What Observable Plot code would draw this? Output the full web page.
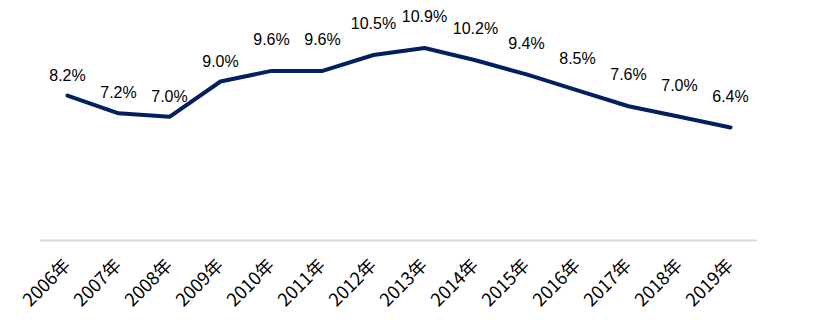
<!DOCTYPE html>
<html>
<head>
<meta charset="utf-8">
<script src="https://cdn.jsdelivr.net/npm/d3@7"></script>
<script src="https://cdn.jsdelivr.net/npm/@observablehq/plot@0.6"></script>
<style>
  html, body { margin: 0; padding: 0; background: #fff; }
</style>
</head>
<body>
<div id="chart"></div>
<script>
const years = ["2006年","2007年","2008年","2009年","2010年","2011年","2012年","2013年","2014年","2015年","2016年","2017年","2018年","2019年"];
const values = [8.2, 7.2, 7.0, 9.0, 9.6, 9.6, 10.5, 10.9, 10.2, 9.4, 8.5, 7.6, 7.0, 6.4];
const labels = ["8.2%","7.2%","7.0%","9.0%","9.6%","9.6%","10.5%","10.9%","10.2%","9.4%","8.5%","7.6%","7.0%","6.4%"];

const data = years.map((y, i) => ({year: y, value: values[i], label: labels[i], i}));

const chart = Plot.plot({
  width: 828,
  height: 328,
  marginLeft: 40,
  marginRight: 71,
  marginTop: 28,
  marginBottom: 88,
  style: {background: "#fff"},
  x: {type: "point", domain: years, padding: 0.5, label: null},
  y: {domain: [0, 12], axis: null},
  marks: [
    Plot.ruleY([0], {stroke: "#d9d9d9", strokeWidth: 2}),
    Plot.lineY(data, {x: "year", y: "value", stroke: "#002060", strokeWidth: 4, strokeLinejoin: "round"}),
    Plot.text(data.filter(d => d.i < 4), {x: "year", y: "value", text: "label", dy: -20, fontSize: 16, fill: "#000", fontFamily: "Liberation Sans, Arial, sans-serif"}),
    Plot.text(data.filter(d => d.i >= 4), {x: "year", y: "value", text: "label", dy: -31, fontSize: 16, fill: "#000", fontFamily: "Liberation Sans, Arial, sans-serif"}),
    Plot.axisX({tickSize: 0, tickPadding: 22, tickRotate: -45, fontSize: 18, fill: "#000", fontFamily: "Noto Sans CJK SC, sans-serif", label: null})
  ]
});
document.getElementById("chart").appendChild(chart);
</script>
</body>
</html>
